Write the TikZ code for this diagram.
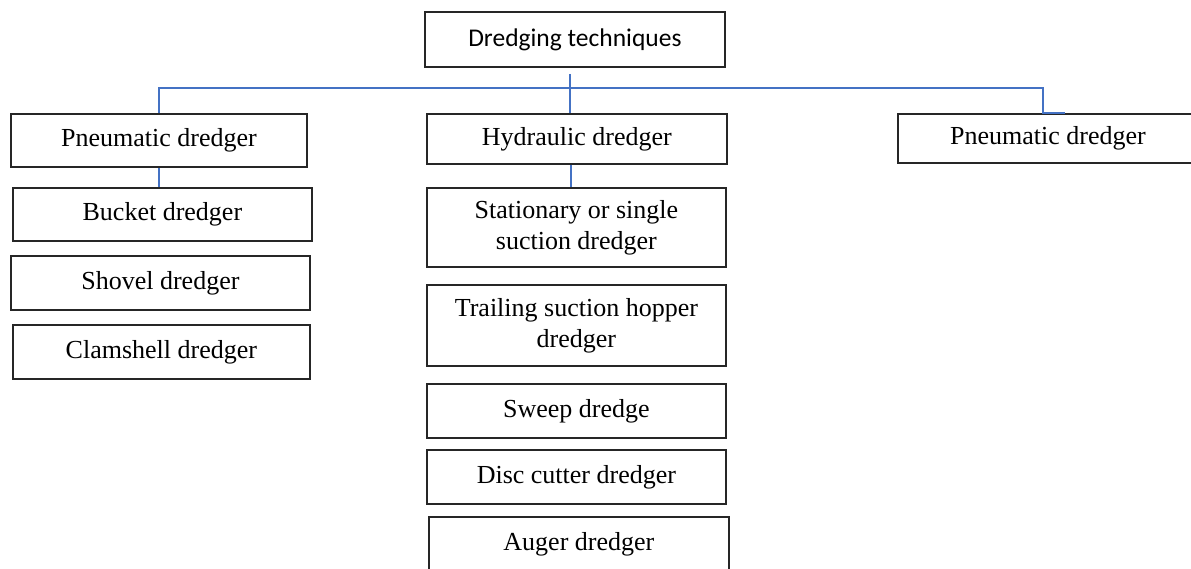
\documentclass[tikz,border=0pt]{standalone}
\usepackage{fontspec}
\setmainfont{Liberation Serif}
\newfontfamily\calibrifont{Carlito}
\definecolor{connblue}{HTML}{4472C4}
\tikzset{
  box/.style={draw=black!85, line width=1.8pt, anchor=north west, inner sep=0pt,
    align=center, font=\fontsize{26}{31}\selectfont},
  conn/.style={draw=connblue, line width=1.8pt},
}
\begin{document}
\begin{tikzpicture}[x=1pt,y=-1pt]
\useasboundingbox (0,0) rectangle (1191,568);
\clip (0,0) rectangle (1191,568);
% top
\node[box, minimum width=300pt, minimum height=55pt, font=\calibrifont\fontsize{25.5}{31}\selectfont] (top) at (424,11) {Dredging techniques};
% level 1
\node[box, minimum width=296pt, minimum height=53pt] (pl) at (10,113) {Pneumatic dredger};
\node[box, minimum width=300pt, minimum height=50pt] (hyd) at (426,113) {Hydraulic dredger};
\node[box, minimum width=300pt, minimum height=49pt] (pr) at (897,113) {Pneumatic dredger};
% left column
\node[box, minimum width=299pt, minimum height=53pt] (buck) at (12,187) {Bucket dredger};
\node[box, minimum width=299pt, minimum height=54pt] (shov) at (10,255) {Shovel dredger};
\node[box, minimum width=297pt, minimum height=54pt] (clam) at (12,324) {Clamshell dredger};
% middle column
\node[box, minimum width=299pt, minimum height=79pt] (stat) at (426,187) {Stationary or single\\suction dredger};
\node[box, minimum width=299pt, minimum height=81pt] (trail) at (426,284) {Trailing suction hopper\\dredger};
\node[box, minimum width=299pt, minimum height=54pt] (sweep) at (426,383) {Sweep dredge};
\node[box, minimum width=299pt, minimum height=54pt] (disc) at (426,449) {Disc cutter dredger};
\node[box, minimum width=300pt, minimum height=54pt] (aug) at (428,516) {Auger dredger};
% connectors
\coordinate (tj) at (570,88);
\coordinate (hj) at (571,88);
\coordinate (rj) at (1043,88);
\coordinate (rend) at (1065,113);
\draw[conn] ([yshift=-6pt]tj |- top.south) -- (tj |- hyd.north);
\draw[conn] (pl.north) |- (rj) -- (rj |- pr.north) -- (rend);
\draw[conn] (hj |- hyd.south) -- (hj |- stat.north);
\draw[conn] (pl.south) -- (pl.south |- buck.north);
\end{tikzpicture}
\end{document}
